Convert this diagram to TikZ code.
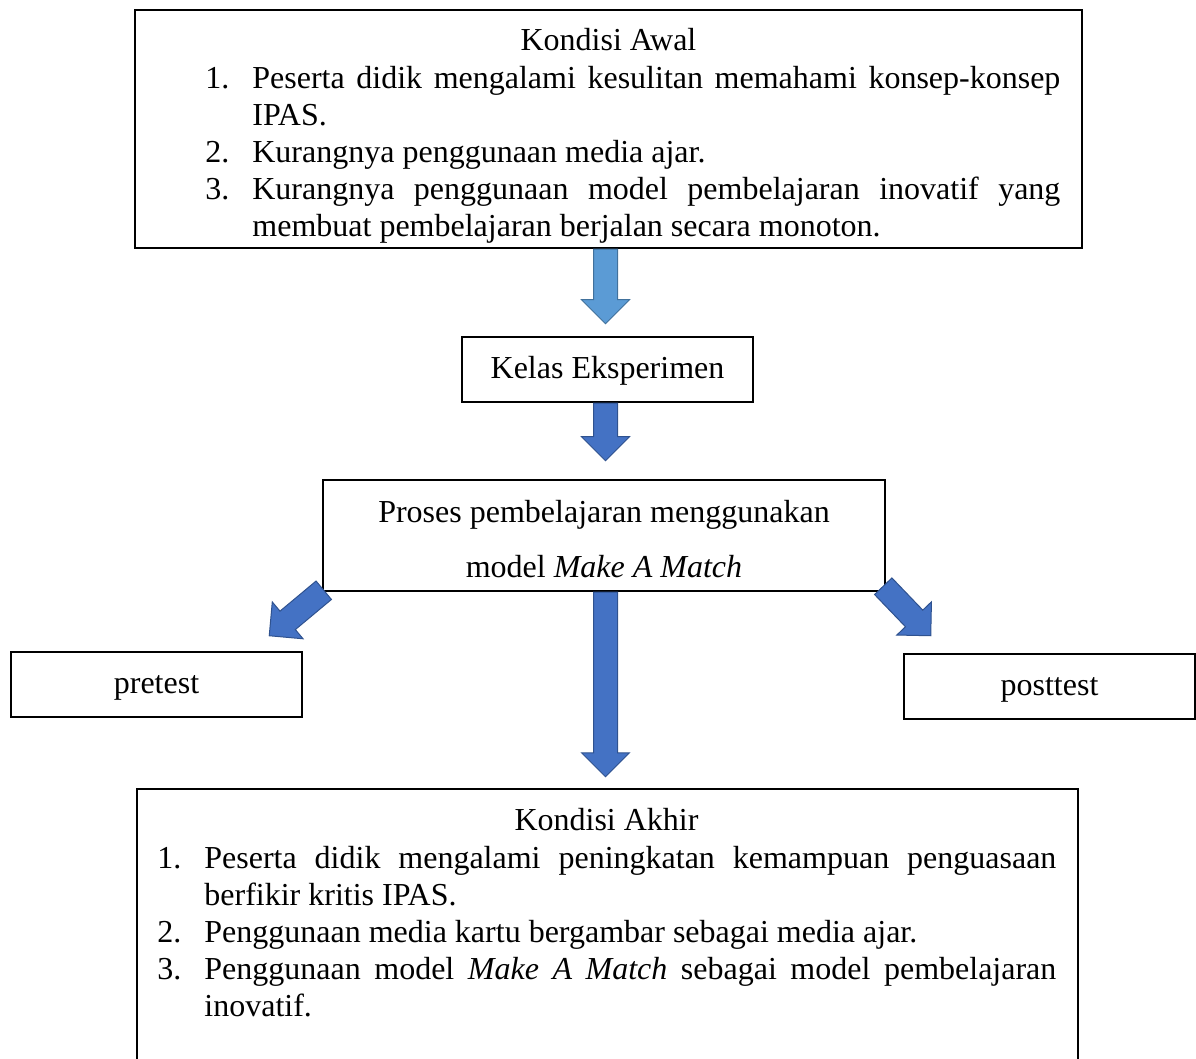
\documentclass[tikz,border=0pt]{standalone}
\usepackage{fontspec}
\setmainfont{Liberation Serif}
\usepackage{tikz}
\usetikzlibrary{calc}

\definecolor{lightarrow}{HTML}{5B9BD5}
\definecolor{lightedge}{HTML}{41719C}
\definecolor{darkarrow}{HTML}{4472C4}
\definecolor{darkedge}{HTML}{2F528F}

\tikzset{
  box/.style={draw, line width=1.25pt, inner sep=0pt, font=\fontsize{16}{18.5}\selectfont},
  smallbox/.style={box, minimum width=145.5pt, minimum height=32.5pt, text height=12pt, text depth=3pt},
  txt/.style={inner sep=0pt, font=\fontsize{16}{18.5}\selectfont},
  fatarrow/.style={fill=darkarrow, draw=darkedge, line width=0.5pt},
  lightfat/.style={fill=lightarrow, draw=lightedge},
}

% numbered line with hanging indent
\newcommand{\butir}[2]{\par\noindent\hangindent=23.5pt\hangafter=1\strut\makebox[23.5pt][l]{#1}#2\par}

% block arrow from #2 to #3
\newcommand{\fatarrow}[3][]{%
  \coordinate (fa-s) at (#2);
  \coordinate (fa-e) at (#3);
  \coordinate (fa-b) at ($(fa-e)!12pt!(fa-s)$);
  \filldraw[fatarrow,#1] ($(fa-s)!6pt!90:(fa-e)$) -- ($(fa-b)!6pt!-90:(fa-s)$)
    -- ($(fa-b)!12pt!-90:(fa-s)$) -- (fa-e) -- ($(fa-b)!12pt!90:(fa-s)$)
    -- ($(fa-b)!6pt!90:(fa-s)$) -- ($(fa-s)!6pt!-90:(fa-e)$) -- cycle;
}

\begin{document}
\begin{tikzpicture}[x=0.5pt,y=-0.5pt]
    \useasboundingbox (0,0) rectangle (1196,1059);
    \hyphenpenalty=10000 \exhyphenpenalty=10000 \tolerance=9999

    % Kondisi awal
    \node[box, minimum width=473.5pt, minimum height=119pt] (awal) at (608.5,129) {};
    \node[txt, anchor=base] (awaljudul) at (608.5,51) {Kondisi Awal};
    \node[txt, text width=427.5pt, align=justify, anchor=north west] (awalisi) at (205,51) {%
      \butir{1.}{Peserta didik mengalami kesulitan memahami konsep-konsep IPAS.}
      \butir{2.}{Kurangnya penggunaan media ajar.}
      \butir{3.}{Kurangnya penggunaan model pembelajaran inovatif yang membuat pembelajaran berjalan secara monoton.}};

    % Kelas dan proses
    \node[smallbox] (eksp) at (607.5,369.5) {Kelas Eksperimen};
    \node[box, minimum width=281pt, minimum height=55.5pt, align=center,
          font=\fontsize{16}{27.5}\selectfont] (proses) at (604,535.5)
          {\rule{0pt}{15pt}Proses pembelajaran menggunakan\\ model \textit{Make A Match}};

    % Tes
    \node[smallbox] (pretest) at (156.5,684.5) {pretest};
    \node[smallbox] (posttest) at (1049.5,686.5) {posttest};

    % Kondisi akhir (runs past the bottom edge)
    \node[box, minimum width=470.5pt, minimum height=150pt] (akhir) at (607.5,939) {};
    \node[txt, anchor=base] (akhirjudul) at (606.5,830) {Kondisi Akhir};
    \node[txt, text width=449.5pt, align=justify, anchor=north west] (akhirisi) at (157,831) {%
      \butir{1.}{Peserta didik mengalami peningkatan kemampuan penguasaan berfikir kritis IPAS.}
      \butir{2.}{Penggunaan media kartu bergambar sebagai media ajar.}
      \butir{3.}{Penggunaan model \textit{Make A Match} sebagai model pembelajaran inovatif.}};

    % Arrows
    \coordinate (poros) at (605.5,0); % common axis of the straight arrows
    \fatarrow[lightfat]{poros |- awal.south}{$(poros |- eksp.north)+(0,-12)$}
    \fatarrow{poros |- eksp.south}{$(poros |- proses.north)+(0,-18)$}
    \fatarrow{poros |- proses.south}{$(poros |- akhir.north)+(0,-11)$}
    \fatarrow{$(proses.south west)+(2,-2)$}{$(pretest.north east)+(-34,-15)$}
    \fatarrow{$(proses.south east)+(-3,-6)$}{$(posttest.north west)+(28,-17)$}
\end{tikzpicture}
\end{document}
